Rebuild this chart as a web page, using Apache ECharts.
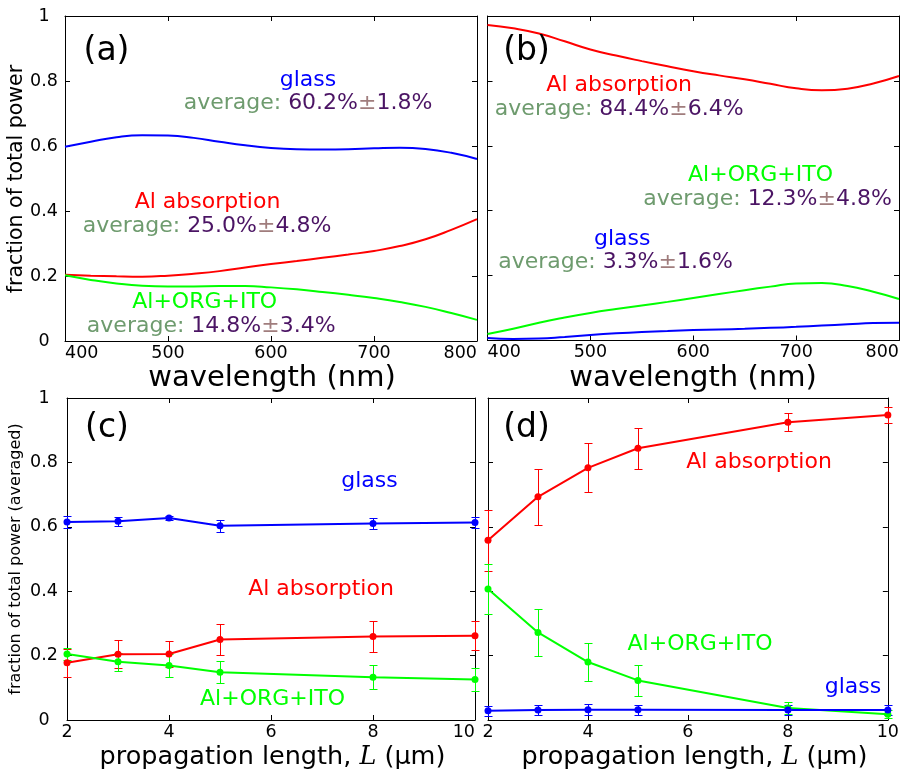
<!DOCTYPE html>
<html><head><meta charset="utf-8">
<script src="https://cdn.jsdelivr.net/npm/echarts@6/dist/echarts.min.js"></script>
<style>html,body{margin:0;padding:0;background:#fff}#c{width:902px;height:770px}</style>
</head><body><div id="c"></div>
<script>
// ---------- data ----------
const wavelength = [400,425,450,475,500,525,550,575,600,625,650,675,700,725,750,775,800];
// panel (a)
const aGlass = [0.598,0.613,0.627,0.633,0.632,0.625,0.613,0.602,0.594,0.590,0.589,0.590,0.593,0.595,0.591,0.579,0.560];
const aAl    = [0.204,0.201,0.199,0.198,0.201,0.207,0.215,0.226,0.237,0.246,0.256,0.266,0.277,0.292,0.313,0.342,0.375];
const aOrg   = [0.202,0.188,0.177,0.170,0.168,0.168,0.169,0.169,0.165,0.159,0.151,0.142,0.132,0.120,0.105,0.086,0.065];
// panel (b)
const bAl    = [0.972,0.962,0.946,0.922,0.897,0.878,0.861,0.845,0.830,0.817,0.805,0.791,0.777,0.771,0.776,0.792,0.815];
const bOrg   = [0.020,0.036,0.055,0.071,0.085,0.097,0.108,0.119,0.131,0.143,0.155,0.166,0.176,0.177,0.168,0.150,0.128];
const bGlass = [0.008,0.005,0.006,0.011,0.017,0.022,0.026,0.029,0.032,0.034,0.036,0.039,0.042,0.046,0.050,0.054,0.055];
// panels (c), (d)
const propLength = [2,3,4,5,8,10];
const cGlass = [0.615,0.617,0.627,0.603,0.610,0.613];
const cGlassErr = [0.020,0.013,0.007,0.018,0.017,0.017];
const cAl = [0.178,0.204,0.205,0.250,0.259,0.262];
const cAlErr = [0.043,0.044,0.039,0.048,0.048,0.045];
const cOrg = [0.205,0.181,0.169,0.148,0.133,0.126];
const cOrgErr = [0.018,0.028,0.036,0.034,0.037,0.037];
const dAl = [0.558,0.693,0.783,0.844,0.925,0.947];
const dAlErr = [0.094,0.087,0.076,0.064,0.027,0.025];
const dOrg = [0.407,0.272,0.180,0.123,0.037,0.018];
const dOrgErr = [0.078,0.072,0.060,0.048,0.019,0.012];
const dGlass = [0.029,0.031,0.032,0.032,0.031,0.031];
const dGlassErr = [0.016,0.015,0.018,0.016,0.015,0.015];
// text
const panelLabels = ['(a)','(b)','(c)','(d)'];

// ---------- styling ----------
const FONT = '"DejaVu Sans", Verdana, sans-serif';
const BLUE = '#0000ff', RED = '#ff0000', GREEN = '#00ff00';
const AVG = '#6e9b6e', NUM = '#4b1464', PM = '#a07d7d';

const grids = [
  {left:65, top:16, width:412, height:325},
  {left:487.5, top:16, width:412, height:324.5},
  {left:67, top:398, width:408, height:322},
  {left:488, top:398, width:410, height:322}
];

const xAxes = [], yAxes = [];
function addAxes(gi, xmin, xmax, xint, showY, alignMax, yMargin) {
  const common = {
    gridIndex: gi, type: 'value', splitLine: {show:false},
    axisLine: {show:true, onZero:false, lineStyle:{color:'#000', width:1}},
    axisTick: {show:true, inside:true, length:5, lineStyle:{color:'#000', width:1}}
  };
  xAxes.push(Object.assign({}, common, {
    position:'bottom', min:xmin, max:xmax, interval:xint,
    axisLabel: {show:true, color:'#000', fontFamily:FONT, fontSize:17.5, margin:3,
      alignMinLabel: gi < 2 ? 'left' : 'center', alignMaxLabel: alignMax}
  }));
  xAxes.push(Object.assign({}, common, {
    position:'top', min:xmin, max:xmax, interval:xint, axisLabel:{show:false}
  }));
  yAxes.push(Object.assign({}, common, {
    position:'left', min:0, max:1, interval:0.2,
    axisLabel: {show:showY, color:'#000', fontFamily:FONT, fontSize:17.5, margin:yMargin, align:'center',
      formatter: v => (Math.abs(v) < 1e-9 ? '0' : Math.abs(v-1) < 1e-9 ? '1' : v.toFixed(1))}
  }));
  yAxes.push(Object.assign({}, common, {
    position:'right', min:0, max:1, interval:0.2, axisLabel:{show:false}
  }));
}
addAxes(0, 400, 800, 100, true, 'right', 21);
addAxes(1, 400, 800, 100, false, 'right', 21);
addAxes(2, 2, 10, 2, true, 'right', 23);
addAxes(3, 2, 10, 2, false, 'center', 23);

const series = [];
function curve(gi, ys, color) {
  series.push({type:'line', xAxisIndex:gi*2, yAxisIndex:gi*2, data: wavelength.map((x,i)=>[x, ys[i]]),
    smooth:0.5, smoothMonotone:null, showSymbol:false, lineStyle:{color, width:2}, itemStyle:{color}, silent:true});
}
function points(gi, ys, errs, color) {
  series.push({type:'custom', xAxisIndex:gi*2, yAxisIndex:gi*2, clip:false, silent:true, z:3,
    data: propLength.map((x,i)=>[x, ys[i], errs[i]]),
    renderItem: (params, api) => {
      const x = api.value(0), y = api.value(1), e = api.value(2);
      const p1 = api.coord([x, y+e]), p2 = api.coord([x, y-e]);
      const cx = Math.round(p1[0]) + 0.5, y1 = Math.round(p1[1]) + 0.5, y2 = Math.round(p2[1]) + 0.5;
      const st = {stroke:color, lineWidth:1};
      return {type:'group', children:[
        {type:'line', shape:{x1:cx, y1:y1, x2:cx, y2:y2}, style:st},
        {type:'line', shape:{x1:cx-4, y1:y1, x2:cx+4, y2:y1}, style:st},
        {type:'line', shape:{x1:cx-4, y1:y2, x2:cx+4, y2:y2}, style:st}
      ]};
    }});
  series.push({type:'line', xAxisIndex:gi*2, yAxisIndex:gi*2, data: propLength.map((x,i)=>[x, ys[i]]),
    clip:false, symbol:'circle', symbolSize:7, showSymbol:true, lineStyle:{color, width:2},
    itemStyle:{color}, silent:true, z:4});
}
curve(0, aGlass, BLUE); curve(0, aAl, RED); curve(0, aOrg, GREEN);
curve(1, bAl, RED); curve(1, bOrg, GREEN); curve(1, bGlass, BLUE);
points(2, cGlass, cGlassErr, BLUE); points(2, cAl, cAlErr, RED); points(2, cOrg, cOrgErr, GREEN);
points(3, dAl, dAlErr, RED); points(3, dOrg, dOrgErr, GREEN); points(3, dGlass, dGlassErr, BLUE);

// ---------- text ----------
const rich = {
  g: {fill:AVG, color:AVG, fontFamily:FONT, fontSize:22},
  n: {fill:NUM, color:NUM, fontFamily:FONT, fontSize:22},
  p: {fill:PM, color:PM, fontFamily:FONT, fontSize:22},
  i: {fontFamily:'"DejaVu Serif", serif', fontStyle:'italic', fontSize:25.5, fill:'#000', color:'#000'},
  r: {fontFamily:FONT, fontSize:25.5, fill:'#000', color:'#000'}
};
function T(x, y, text, size, color, extra) {
  return Object.assign({type:'text', x, y, silent:true, z:100,
    style:{text, fill:color, fontFamily:FONT, fontSize:size, align:'center', verticalAlign:'middle', rich}}, extra || {});
}
function avg(x, y, mean, sd) {
  return T(x, y, '{g|average: }{n|' + mean + '}{p|±}{n|' + sd + '}', 22, AVG);
}
const graphics = [
  T(106.5, 51.5, panelLabels[0], 33, '#000'),
  T(526.5, 51, panelLabels[1], 33, '#000'),
  T(107, 428, panelLabels[2], 33, '#000'),
  T(526.5, 428, panelLabels[3], 33, '#000'),
  // (a)
  T(308, 80, 'glass', 22, BLUE), avg(308, 103.5, '60.2%', '1.8%'),
  T(207.5, 202.3, 'Al absorption', 22, RED), avg(207, 225.8, '25.0%', '4.8%'),
  T(204.7, 302.3, 'Al+ORG+ITO', 22, GREEN), avg(211.2, 325.8, '14.8%', '3.4%'),
  // (b)
  T(619.2, 85.7, 'Al absorption', 22, RED), avg(619.2, 109.2, '84.4%', '6.4%'),
  T(760.5, 175.7, 'Al+ORG+ITO', 22, GREEN), avg(767.5, 199.2, '12.3%', '4.8%'),
  T(622.2, 239, 'glass', 22, BLUE), avg(615.5, 262.5, '3.3%', '1.6%'),
  // (c)
  T(369.5, 481, 'glass', 22, BLUE),
  T(321, 589, 'Al absorption', 22, RED),
  T(272.5, 699, 'Al+ORG+ITO', 22, GREEN),
  // (d)
  T(759, 462, 'Al absorption', 22, RED),
  T(700, 644, 'Al+ORG+ITO', 22, GREEN),
  T(853, 687, 'glass', 22, BLUE),
  // axis titles
  T(272, 378, 'wavelength (nm)', 29, '#000'),
  T(693, 378, 'wavelength (nm)', 29, '#000'),
  T(272.5, 757, '{r|propagation length, }{i|L}{r| (µm)}', 25.5, '#000'),
  T(694.5, 757, '{r|propagation length, }{i|L}{r| (µm)}', 25.5, '#000'),
  T(16.5, 179, 'fraction of total power', 20.5, '#000', {rotation: Math.PI/2}),
  T(16, 559, 'fraction of total power (averaged)', 16, '#000', {rotation: Math.PI/2})
];

const chart = echarts.init(document.getElementById('c'), null, {renderer:'canvas'});
chart.setOption({
  animation:false,
  backgroundColor:'#fff',
  grid: grids,
  xAxis: xAxes,
  yAxis: yAxes,
  series,
  graphic: graphics
});
</script></body></html>
